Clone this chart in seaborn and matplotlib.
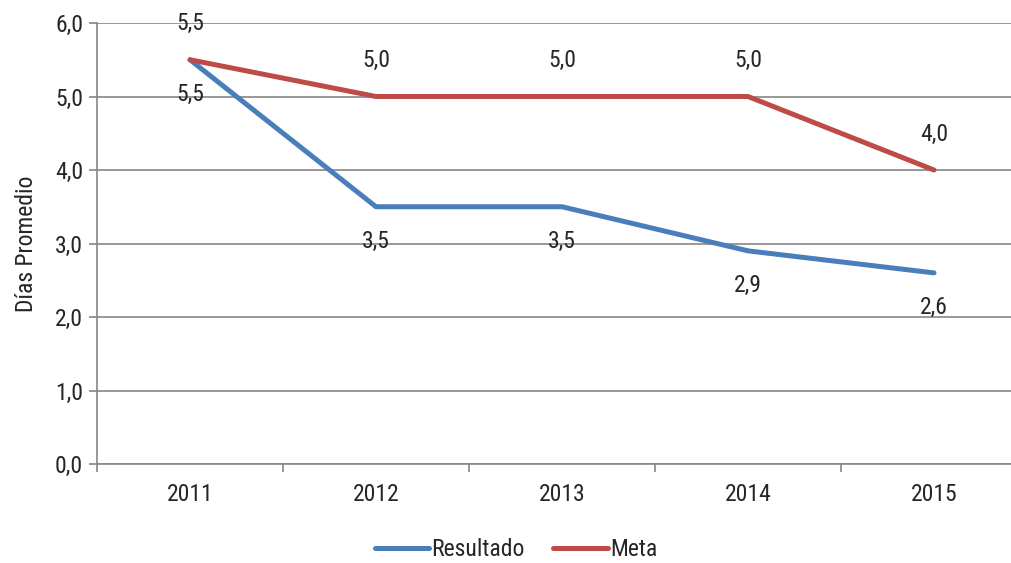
import pandas as pd
import numpy as np
import matplotlib.pyplot as plt
import seaborn as sns
from matplotlib.ticker import FixedLocator, FuncFormatter

years = ["2011", "2012", "2013", "2014", "2015"]
resultado = [5.5, 3.5, 3.5, 2.9, 2.6]
meta = [5.5, 5.0, 5.0, 5.0, 4.0]

df = pd.DataFrame({
    "Año": years * 2,
    "Valor": resultado + meta,
    "Serie": ["Resultado"] * len(years) + ["Meta"] * len(years),
})

sns.set_style("white")
plt.rcParams['font.family'] = ['Roboto Condensed', 'Liberation Sans Narrow', 'Liberation Sans', 'DejaVu Sans']
plt.rcParams['font.stretch'] = 'condensed'

FS = 17

fig = plt.figure(figsize=(10.11, 5.63), dpi=100)
ax = fig.add_axes([97 / 1011, 99 / 563, 930 / 1011, 441 / 563])

palette = {"Resultado": "#4A7EBB", "Meta": "#BE4B48"}
sns.lineplot(data=df, x="Año", y="Valor", hue="Serie", palette=palette,
             linewidth=3.6, sort=False, ax=ax, legend=True)

ax.set_xlim(-0.5, len(years) - 0.5)
ax.set_ylim(0, 6)
ax.set_yticks(np.arange(0, 6.1, 1))
ax.yaxis.set_major_formatter(FuncFormatter(lambda v, p: f"{v:.1f}".replace(".", ",")))
ax.grid(axis="y", color="#868686", linewidth=1.2)
ax.set_axisbelow(True)

# category boundary ticks, labels at centres
ax.set_xticks(range(len(years)))
ax.set_xticklabels(years)
ax.xaxis.set_minor_locator(FixedLocator(np.arange(-0.5, len(years), 1)))
ax.tick_params(axis="x", which="major", length=0, pad=14, labelsize=FS)
ax.tick_params(axis="x", which="minor", length=6, color="#868686", width=1.2, direction="out")
ax.tick_params(axis="y", length=6, color="#868686", width=1.2, direction="out", labelsize=FS, pad=4)
ax.tick_params(bottom=True, left=True, which="both")

for side in ["top", "right"]:
    ax.spines[side].set_visible(False)
for side in ["left", "bottom"]:
    ax.spines[side].set_color("#868686")
    ax.spines[side].set_linewidth(1.2)

ax.set_xlabel("")
ax.set_ylabel("Días Promedio", fontsize=FS, labelpad=12)

for i, (r, m) in enumerate(zip(resultado, meta)):
    ax.annotate(f"{r:.1f}".replace(".", ","), (i, r), xytext=(0, -35),
                textcoords="offset pixels", ha="center", va="center", fontsize=FS)
    ax.annotate(f"{m:.1f}".replace(".", ","), (i, m), xytext=(0, 36),
                textcoords="offset pixels", ha="center", va="center", fontsize=FS)

handles, labels = ax.get_legend_handles_labels()
ax.legend(handles, labels, loc="center", bbox_to_anchor=(516 / 1011, 13 / 563),
          bbox_transform=fig.transFigure, ncol=2, frameon=False, fontsize=FS,
          handlelength=2.3, handletextpad=0.1, columnspacing=1.2)

fig.savefig("out.png", dpi=100)
